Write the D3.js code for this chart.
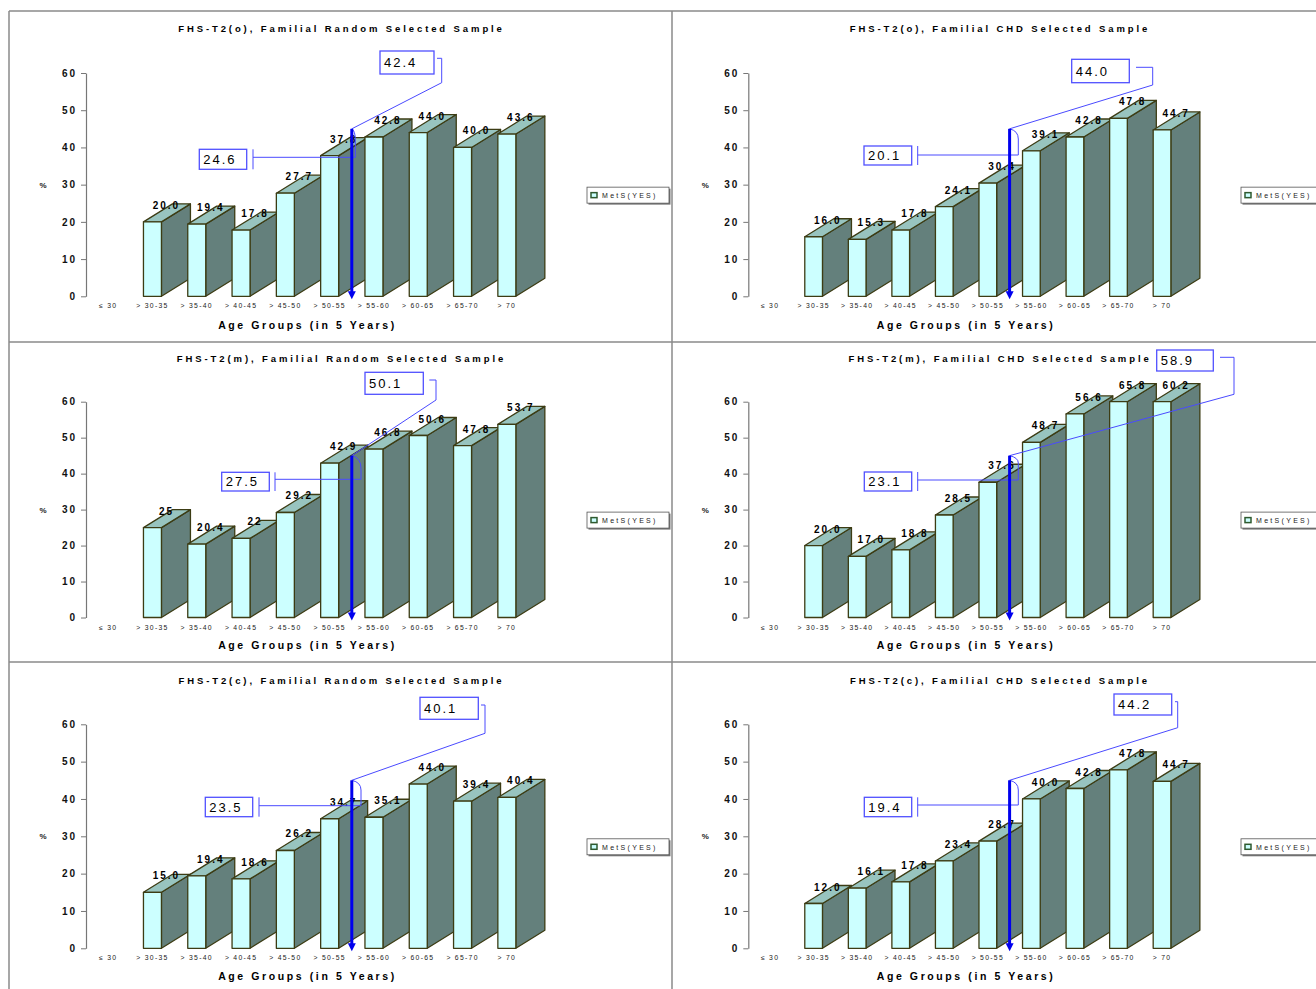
<!DOCTYPE html>
<html>
<head>
<meta charset="utf-8">
<script src="https://cdn.jsdelivr.net/npm/d3@7"></script>
<style>
  body { margin: 0; background: #fff; }
  text { font-family: "Liberation Sans", Arial, sans-serif; }
</style>
</head>
<body>
<div id="chart"></div>
<script>
// age groups, first one has no bar
var categories = ["≤ 30", "> 30-35", "> 35-40", "> 40-45", "> 45-50", "> 50-55", "> 55-60", "> 60-65", "> 65-70", "> 70"];
var yTicks = [0, 10, 20, 30, 40, 50, 60];

var panelTitles = [
  "FHS-T2(o), Familial Random Selected Sample",
  "FHS-T2(o), Familial CHD Selected Sample",
  "FHS-T2(m), Familial Random Selected Sample",
  "FHS-T2(m), Familial CHD Selected Sample",
  "FHS-T2(c), Familial Random Selected Sample",
  "FHS-T2(c), Familial CHD Selected Sample"
];

var randomO = [null, 20.0, 19.4, 17.8, 27.7, 37.8, 42.8, 44.0, 40.0, 43.6];
var chdO    = [null, 16.0, 15.3, 17.8, 24.1, 30.4, 39.1, 42.8, 47.8, 44.7];
var randomM = [null, 25, 20.4, 22, 29.2, 42.9, 46.8, 50.6, 47.8, 53.7];
var chdM    = [null, 20.0, 17.0, 18.8, 28.5, 37.6, 48.7, 56.6, 65.8, 60.2];
var randomC = [null, 15.0, 19.4, 18.6, 26.2, 34.7, 35.1, 44.0, 39.4, 40.4];
var chdC    = [null, 12.0, 16.1, 17.8, 23.4, 28.7, 40.0, 42.8, 47.8, 44.7];

var upperCallout = [42.4, 44.0, 50.1, 58.9, 40.1, 44.2];
var lowerCallout = [24.6, 20.1, 27.5, 23.1, 23.5, 19.4];
var legendLabel = "MetS(YES)";
var yLabel = "%";
var xTitle = "Age Groups (in 5 Years)";

var series = [randomO, chdO, randomM, chdM, randomC, chdC];

// layout
var W = 1316, H = 989;
var cols = [
  {x0: 9, axisX: 86, plotW: 443, legendDx: 578},
  {x0: 672, axisX: 748.3, plotW: 435.5, legendDx: 569}
];
var rows = [
  {yTop: 73, yBot: 296.3, titleY: 31.5, tickY: 309.5, xTitleY: 329},
  {yTop: 401.7, yBot: 617.5, titleY: 361.5, tickY: 631.5, xTitleY: 649},
  {yTop: 724.3, yBot: 948.3, titleY: 683.5, tickY: 961, xTitleY: 980}
];
// callout boxes and leader lines (pixels)
var callouts = [
  {up: [380, 51, 54, 23], upLead: [437, 58.3, 441.7, 82.7], low: [199.3, 149.3, 47.4, 20], lowLead: [253, 157.3, 355.3, 140]},
  {up: [1071.7, 59.3, 57.6, 23.4], upLead: [1136, 67.3, 1152.7, 85], low: [864, 146, 47.7, 19], lowLead: [917.7, 155, 1018.3, 139]},
  {up: [365, 372.3, 58.3, 22], upLead: [429.3, 380, 436, 400], low: [221.7, 472.3, 47.6, 18.7], lowLead: [275, 479.3, 361, 468.3]},
  {up: [1156.7, 350, 56.6, 21], upLead: [1220, 357.3, 1234, 394.3], low: [864.3, 472, 47.4, 19], lowLead: [917.7, 480, 1018.3, 463]},
  {up: [420, 697.3, 58.3, 22], upLead: [481, 705, 485, 733.3], low: [205.3, 797.3, 47.4, 19.4], lowLead: [259, 805.7, 361, 790]},
  {up: [1114, 694, 57.7, 21], upLead: [1175, 701.7, 1177.7, 727.7], low: [864.3, 797.3, 47.4, 19.4], lowLead: [917.7, 805, 1018.3, 790]}
];
var depthX = 29, depthY = 18;
var arrowValue = 45;

var svg = d3.select("#chart").append("svg")
    .attr("width", W)
    .attr("height", H);

svg.append("rect").attr("width", W).attr("height", H).attr("fill", "#fff");

// panel frames
var frame = svg.append("g").attr("stroke", "#8a8a8a").attr("stroke-width", 1.5);
frame.append("line").attr("x1", 9).attr("y1", 11).attr("x2", W).attr("y2", 11);
frame.append("line").attr("x1", 9).attr("y1", 11).attr("x2", 9).attr("y2", H);
frame.append("line").attr("x1", 672).attr("y1", 11).attr("x2", 672).attr("y2", H);
frame.append("line").attr("x1", 9).attr("y1", 342).attr("x2", W).attr("y2", 342);
frame.append("line").attr("x1", 9).attr("y1", 662).attr("x2", W).attr("y2", 662);

series.forEach(function(vals, i) {
  var col = cols[i % 2], row = rows[Math.floor(i / 2)];
  var g = svg.append("g");
  var fmt = (i == 2) ? function(v) { return String(v); } : function(v) { return v.toFixed(1); };

  var x = d3.scaleBand()
      .domain(categories)
      .range([col.axisX, col.axisX + col.plotW])
      .paddingInner(0.594)
      .paddingOuter(0.297);
  var y = d3.scaleLinear()
      .domain([0, 60])
      .range([row.yBot, row.yTop])
      .clamp(true);
  var bw = x.bandwidth();
  var mid = (col.axisX + col.plotW / 2);

  // title
  g.append("text")
    .attr("x", mid + 34).attr("y", row.titleY)
    .attr("text-anchor", "middle")
    .style("font-size", "9.5px").style("font-weight", "bold").style("letter-spacing", "2.9px")
    .text(panelTitles[i]);

  // y axis
  var yAxis = g.append("g")
    .attr("transform", "translate(" + col.axisX + ",0)")
    .call(d3.axisLeft(y).tickValues(yTicks).tickSize(5).tickSizeOuter(0).tickPadding(5));
  yAxis.select(".domain").attr("stroke", "#777").attr("stroke-width", 1.2);
  yAxis.selectAll(".tick line").attr("stroke", "#777");
  yAxis.selectAll(".tick text")
    .style("font-size", "10px").style("font-weight", "bold").style("letter-spacing", "2px")
    .attr("fill", "#111").attr("dx", "1px");

  g.append("text")
    .attr("x", col.axisX - 43).attr("y", (row.yTop + row.yBot) / 2 + 3)
    .attr("text-anchor", "middle")
    .style("font-size", "8px").style("font-weight", "bold").attr("fill", "#222")
    .text(yLabel);

  // x axis labels
  var xAxis = g.append("g")
    .attr("transform", "translate(0," + (row.tickY - 6) + ")")
    .call(d3.axisBottom(x).tickSize(0).tickPadding(0));
  xAxis.select(".domain").remove();
  xAxis.selectAll(".tick text")
    .style("font-size", "6.8px").style("letter-spacing", "1.3px").attr("fill", "#222");

  g.append("text")
    .attr("x", mid).attr("y", row.xTitleY)
    .attr("text-anchor", "middle")
    .style("font-size", "10.5px").style("font-weight", "bold").style("letter-spacing", "2.6px")
    .text(xTitle);

  // 3d columns
  var bars = vals.map(function(v, k) { return {cat: categories[k], v: v}; })
    .filter(function(d) { return d.v != null; });

  var bar = g.selectAll("g.bar")
    .data(bars)
    .enter()
    .append("g")
    .attr("class", "bar")
    .attr("stroke", "#3c3c14")
    .attr("stroke-width", 1.3)
    .attr("stroke-linejoin", "round");

  bar.append("polygon")
    .attr("fill", "#64807c")
    .attr("points", function(d) {
      var l = x(d.cat), t = y(d.v), b = y(0);
      return [[l + bw, t], [l + bw + depthX, t - depthY], [l + bw + depthX, b - depthY], [l + bw, b]].join(" ");
    });
  bar.append("polygon")
    .attr("fill", "#98c4bf")
    .attr("points", function(d) {
      var l = x(d.cat), t = y(d.v);
      return [[l, t], [l + depthX, t - depthY], [l + bw + depthX, t - depthY], [l + bw, t]].join(" ");
    });
  bar.append("rect")
    .attr("fill", "#ccffff")
    .attr("x", function(d) { return x(d.cat); })
    .attr("y", function(d) { return y(d.v); })
    .attr("width", bw)
    .attr("height", function(d) { return y(0) - y(d.v); });

  g.selectAll("text.val")
    .data(bars)
    .enter()
    .append("text")
    .attr("class", "val")
    .attr("x", function(d) { return x(d.cat) + 23; })
    .attr("y", function(d) { return y(d.v) - 13; })
    .attr("text-anchor", "middle")
    .style("font-size", "10px").style("font-weight", "bold").style("letter-spacing", "2px")
    .text(function(d) { return fmt(d.v); });

  // legend
  var ly = (row.yTop + row.yBot) / 2 + 10.5 - 8;
  var lx = col.x0 + col.legendDx;
  g.append("rect").attr("x", lx + 1.5).attr("y", ly + 1.5).attr("width", 82).attr("height", 16).attr("fill", "#777");
  g.append("rect").attr("x", lx).attr("y", ly).attr("width", 82).attr("height", 16)
    .attr("fill", "#fff").attr("stroke", "#555").attr("stroke-width", 0.8);
  g.append("rect").attr("x", lx + 4).attr("y", ly + 5.5).attr("width", 6).attr("height", 5)
    .attr("fill", "#ccffff").attr("stroke", "#2f5a2f").attr("stroke-width", 1.5);
  g.append("text").attr("x", lx + 15).attr("y", ly + 11)
    .style("font-size", "7px").style("letter-spacing", "2.3px").attr("fill", "#222")
    .text(legendLabel);

  // annotation: arrow and callouts
  var ax = x(categories[5]) + bw / 2 + (x(categories[6]) - x(categories[5])) / 2;
  var at = y(arrowValue), ab = y(0) + 2;
  var c = callouts[i];
  var blue = "#4a4aff";

  g.append("path")
    .attr("fill", "none").attr("stroke", blue).attr("stroke-width", 1)
    .attr("d", "M" + c.upLead[0] + "," + c.upLead[1] + "H" + c.upLead[2] + "V" + c.upLead[3] + "L" + ax + "," + at);
  g.append("path")
    .attr("fill", "none").attr("stroke", blue).attr("stroke-width", 1)
    .attr("d", "M" + c.lowLead[0] + "," + c.low[1] + "V" + (c.low[1] + c.low[3]) +
      "M" + c.lowLead[0] + "," + c.lowLead[1] + "H" + c.lowLead[2] + "V" + c.lowLead[3] +
      "Q" + c.lowLead[2] + "," + (at + 2) + " " + ax + "," + at);

  g.append("line")
    .attr("x1", ax).attr("y1", at).attr("x2", ax).attr("y2", ab - 5)
    .attr("stroke", "#0000ee").attr("stroke-width", 3);
  g.append("polygon")
    .attr("fill", "#0000ee")
    .attr("points", [[ax - 4, ab - 7], [ax + 4, ab - 7], [ax, ab + 1]].join(" "));

  [[c.up, upperCallout[i]], [c.low, lowerCallout[i]]].forEach(function(b) {
    var r = b[0];
    g.append("rect").attr("x", r[0]).attr("y", r[1]).attr("width", r[2]).attr("height", r[3])
      .attr("fill", "#fff").attr("stroke", "#5050ff").attr("stroke-width", 1.3);
    g.append("text").attr("x", r[0] + 4).attr("y", r[1] + r[3] / 2 + 4.5)
      .style("font-size", "13px").style("font-weight", "500").style("letter-spacing", "2px")
      .text(b[1].toFixed(1));
  });
});
</script>
</body>
</html>
